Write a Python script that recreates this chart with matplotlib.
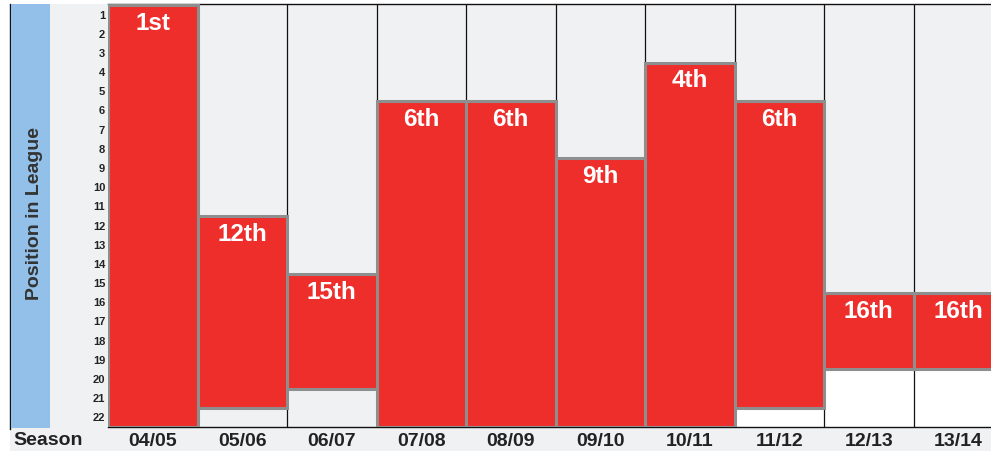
import matplotlib
matplotlib.use("Agg")
import matplotlib.pyplot as plt
from matplotlib.patches import Rectangle
from matplotlib.lines import Line2D

plt.rcParams['font.family'] = ['Liberation Sans', 'DejaVu Sans']

seasons = ['04/05', '05/06', '06/07', '07/08', '08/09', '09/10', '10/11', '11/12', '12/13', '13/14']
positions = [1, 12, 15, 6, 6, 9, 4, 6, 16, 16]
labels = ['1st', '12th', '15th', '6th', '6th', '9th', '4th', '6th', '16th', '16th']
league_bottom = [22, 21, 20, 22, 22, 22, 22, 21, 19, 19]
ytick_vals = list(range(1, 23))

W, H = 991, 451
fig = plt.figure(figsize=(W / 100, H / 100), dpi=100)
fig.patch.set_facecolor('white')

gray_bg = '#f0f1f3'
red = '#ee2e2b'
edge = '#8e8e8e'
txt = '#222222'

def fx(px):
    return px / W

def fy(py):
    return 1 - py / H

# light gray panel
fig.patches.append(Rectangle((fx(10), 0), 1, fy(4), transform=fig.transFigure,
                             facecolor=gray_bg, edgecolor='none', zorder=-2))
# blue band
fig.patches.append(Rectangle((fx(11), fy(428)), fx(39), (424) / H, transform=fig.transFigure,
                             facecolor='#92c0e8', edgecolor='none', zorder=-1))
# left black line
fig.lines.append(Line2D([fx(10), fx(10)], [fy(4), fy(429)], transform=fig.transFigure,
                        color='#111111', lw=1.0, zorder=-1))

ax = fig.add_axes([fx(108), fy(427), (1003 - 108) / W, (427 - 4) / H])
ax.set_zorder(5)
ax.set_facecolor(gray_bg)
ax.set_xlim(-0.5, len(seasons) - 0.5)
ax.set_ylim(22.5, 0.45)

x = list(range(len(seasons)))
tops = [p - 0.5 for p in positions]
bottoms = [b + 0.5 for b in league_bottom]

# white area below bars in last seasons
white_from = 7
for i in x:
    if i >= white_from:
        ax.bar(i, 22.5 - bottoms[i], bottom=bottoms[i], width=1.0, color='white',
               edgecolor='none', zorder=0.5)

for xv in [i + 0.5 for i in range(-1, len(seasons))]:
    ax.axvline(xv, color='#111111', lw=0.9, zorder=1)

ax.bar(x, [b - t for b, t in zip(bottoms, tops)], bottom=tops, width=1.0,
       color=red, edgecolor=edge, linewidth=2.2, zorder=3)

for i, (t, lab) in enumerate(zip(tops, labels)):
    ax.annotate(lab, (i, t), xytext=(0, -13.3), textcoords='offset points',
                ha='center', va='center', color='white', fontsize=17.5,
                fontweight='bold', zorder=4)

ax.set_yticks(ytick_vals)
ax.set_yticklabels([str(v) for v in ytick_vals], fontsize=8, fontweight='bold', color=txt)
ax.set_xticks(x)
ax.set_xticklabels(seasons, fontsize=14, fontweight='bold', color=txt)
ax.tick_params(axis='y', length=0, pad=2)
ax.tick_params(axis='x', length=0, pad=4)

for s in ['left', 'right']:
    ax.spines[s].set_visible(False)
for s in ['top', 'bottom']:
    ax.spines[s].set_color('#111111')
    ax.spines[s].set_linewidth(1.0)

fig.text(fx(13), fy(440.5), 'Season', ha='left', va='center', fontsize=14,
         fontweight='bold', color=txt)
fig.text(fx(35), fy(214), 'Position in League', ha='center', va='center', rotation=90,
         fontsize=14, fontweight='bold', color='#333333')

fig.savefig('out.png', dpi=100, facecolor=fig.get_facecolor())
